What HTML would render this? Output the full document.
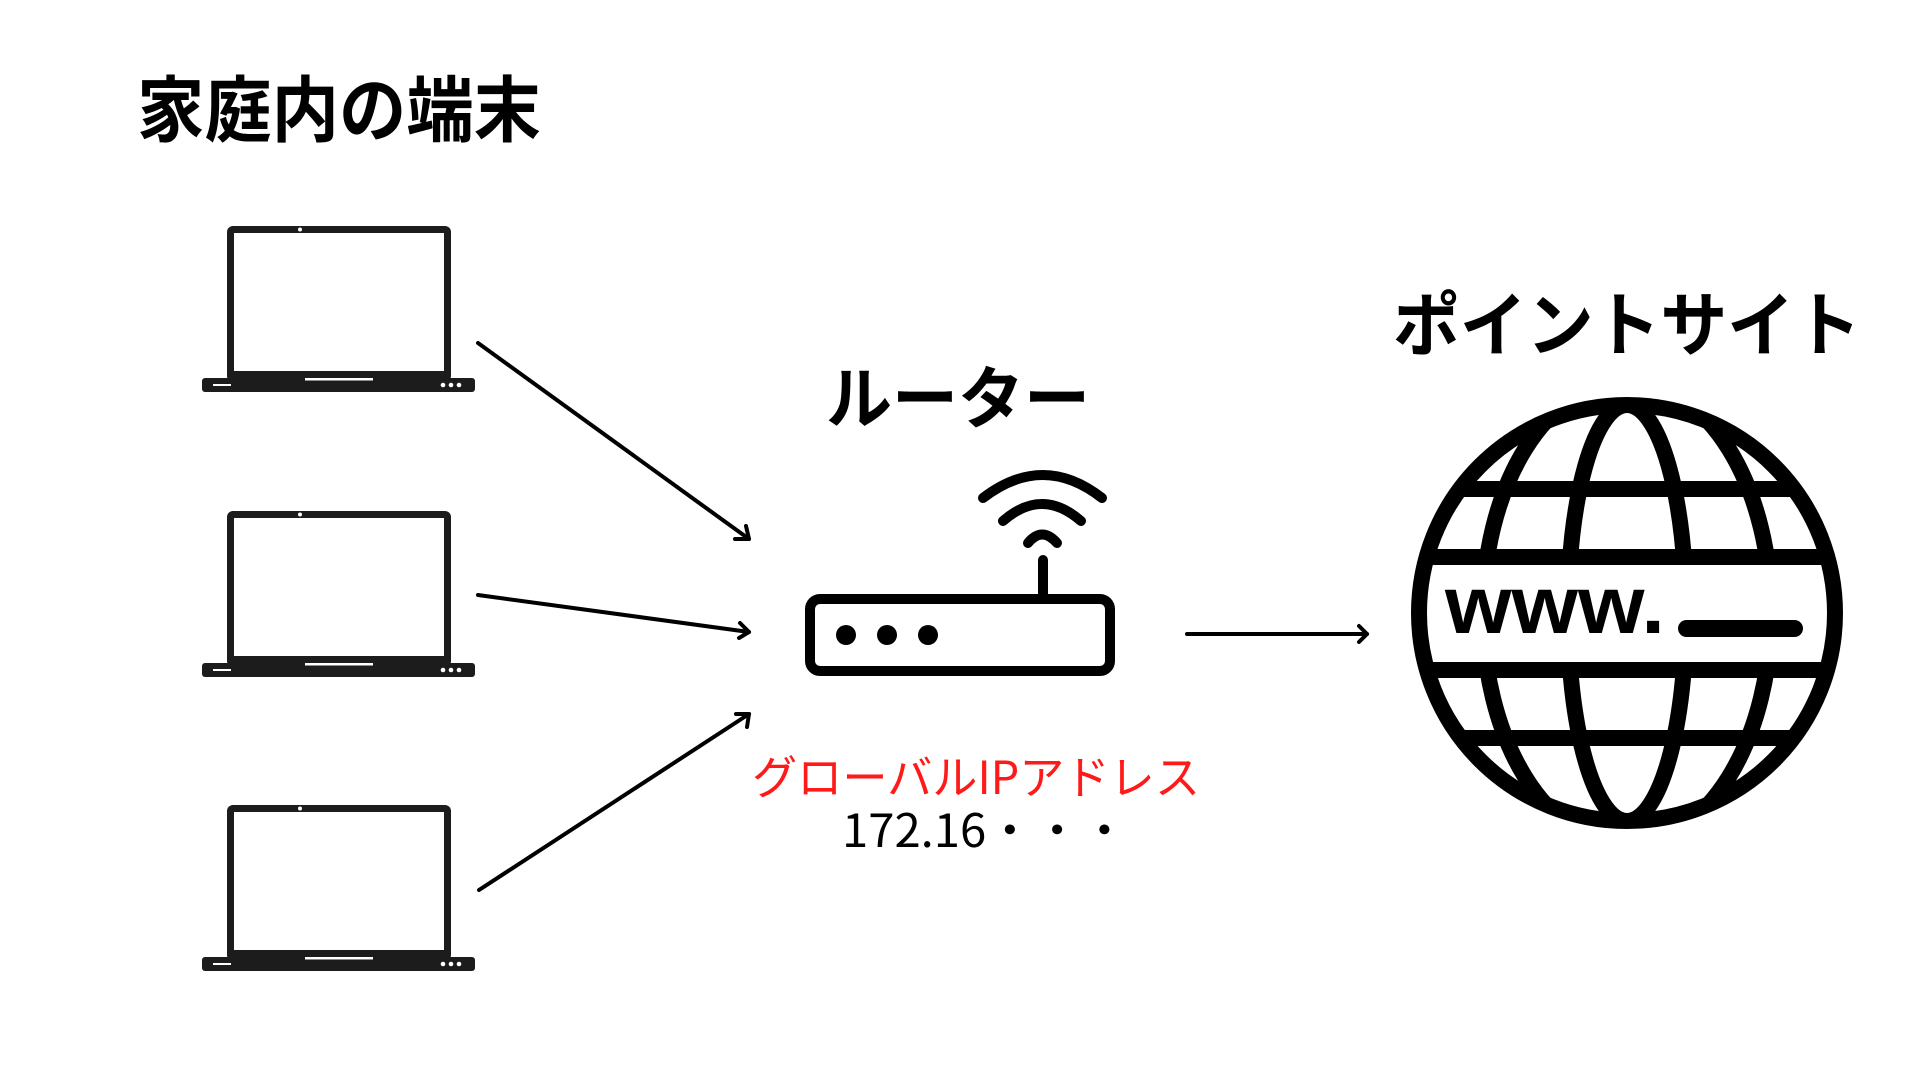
<!DOCTYPE html>
<html><head><meta charset="utf-8"><style>html,body{margin:0;padding:0;background:#fff;width:1920px;height:1080px;overflow:hidden}</style></head>
<body>
<svg width="1920" height="1080" viewBox="0 0 1920 1080" xmlns="http://www.w3.org/2000/svg">
<defs>
<g id="lap">
  <rect x="227" y="226" width="224" height="156" rx="6" fill="#1c1c1c"/>
  <rect x="234" y="233" width="210" height="138" fill="#fff"/>
  <circle cx="300" cy="229.5" r="2" fill="#fff"/>
  <rect x="202" y="378" width="273" height="14" rx="3" fill="#1c1c1c"/>
  <rect x="305" y="378" width="68" height="2.5" fill="#fff"/>
  <rect x="213" y="384" width="18" height="2" fill="#fff"/>
  <circle cx="443" cy="385" r="2.3" fill="#fff"/>
  <circle cx="451" cy="385" r="2.3" fill="#fff"/>
  <circle cx="459" cy="385" r="2.3" fill="#fff"/>
</g>
<clipPath id="gc"><circle cx="1627" cy="613" r="208"/></clipPath>
</defs>
<use href="#lap"/>
<use href="#lap" transform="translate(0,285)"/>
<use href="#lap" transform="translate(0,579)"/>

<g stroke="#000" stroke-width="4" fill="none" stroke-linecap="round" stroke-linejoin="round">
  <line x1="478" y1="343" x2="749" y2="539"/>
  <polyline points="735,539 749,539 746,526"/>
  <line x1="478" y1="595" x2="749" y2="632"/>
  <polyline points="740,623 749,632 739,638"/>
  <line x1="479" y1="890" x2="749" y2="714"/>
  <polyline points="736,714 749,714 747,727"/>
  <line x1="1187" y1="634" x2="1367" y2="634"/>
  <polyline points="1359,626 1367,634 1359,642"/>
</g>

<!-- router -->
<g stroke="#000" stroke-width="10" fill="none" stroke-linecap="round">
  <rect x="810" y="599" width="300" height="72" rx="10"/>
  <line x1="1043" y1="560" x2="1043" y2="596"/>
  <path d="M983,498 Q1043,452 1102,498"/>
  <path d="M1003,521 Q1042,487 1081,521"/>
  <path d="M1028,543 Q1042,526 1057,543"/>
</g>
<circle cx="846" cy="635" r="10"/><circle cx="887" cy="635" r="10"/><circle cx="928" cy="635" r="10"/>

<!-- globe -->
<circle cx="1627" cy="613" r="208" fill="#fff"/>
<g clip-path="url(#gc)" stroke="#000" stroke-width="16" fill="none">
  <ellipse cx="1627" cy="613" rx="59" ry="208"/>
  <ellipse cx="1627" cy="613" rx="144" ry="232"/>
  <line x1="1400" y1="489" x2="1860" y2="489"/>
  <line x1="1400" y1="738" x2="1860" y2="738"/>
  <rect x="1400" y="565" width="460" height="97" fill="#fff" stroke="none"/>
  <line x1="1400" y1="557" x2="1860" y2="557"/>
  <line x1="1400" y1="670" x2="1860" y2="670"/>
</g>
<circle cx="1627" cy="613" r="208" fill="none" stroke="#000" stroke-width="16"/>
<text x="1445" y="633" font-family="Liberation Sans, sans-serif" font-weight="bold" font-size="82" textLength="220" lengthAdjust="spacingAndGlyphs">www.</text>
<rect x="1678" y="620" width="125" height="17" rx="8.5"/>

<!-- labels -->
<g font-family="'Liberation Sans','Noto Sans CJK JP',sans-serif" font-weight="bold">
  <text x="137" y="136" font-size="72" textLength="404" lengthAdjust="spacingAndGlyphs">家庭内の端末</text>
  <text x="826" y="423" font-size="68" textLength="264" lengthAdjust="spacingAndGlyphs">ルーター</text>
  <text x="1393" y="350" font-size="70" textLength="468" lengthAdjust="spacingAndGlyphs">ポイントサイト</text>
</g>
<g font-family="'Noto Sans CJK JP',sans-serif">
  <text x="752" y="794" font-size="46" fill="#ff1a1a" textLength="448" lengthAdjust="spacingAndGlyphs">グローバルIPアドレス</text>
  <text x="842" y="847" font-size="46" fill="#000" textLength="286" lengthAdjust="spacingAndGlyphs">172.16・・・</text>
</g>
</svg>
</body></html>
